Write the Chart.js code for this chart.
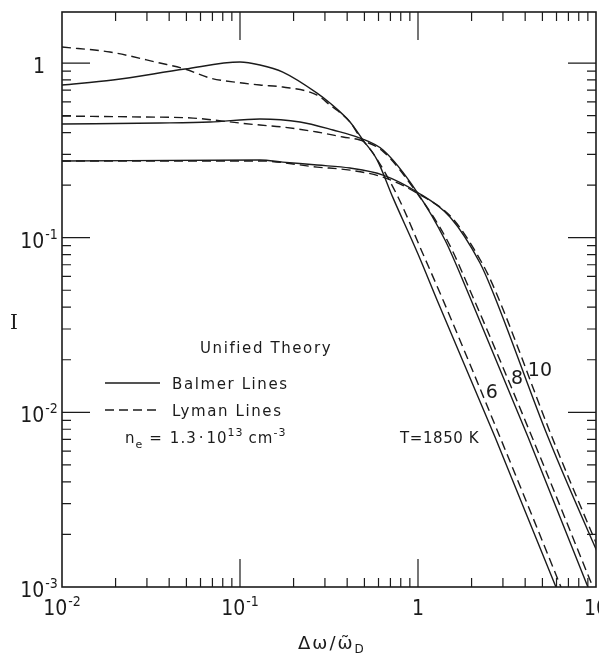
<!DOCTYPE html>
<html lang="en">
<head>
<meta charset="UTF-8">
<title>Unified Theory profiles</title>
<script src="https://cdn.jsdelivr.net/npm/chart.js@4.4.0/dist/chart.umd.min.js"></script>
<style>
  html, body { margin: 0; padding: 0; background: #fff; }
  #wrap { width: 599px; height: 655px; }
</style>
</head>
<body>
<div id="wrap"><canvas id="canvas"></canvas></div>
<script>
// profiles, x = dw/wD, y = I
// Balmer (solid) n = 6, 8, 10
const balmer6X = [0.01, 0.0193, 0.0491, 0.1, 0.1295, 0.174, 0.271, 0.32, 0.415, 0.491, 0.589, 0.724, 1.0, 1.279, 2.708, 5.885, 6.6];
const balmer6Y = [0.748, 0.799, 0.924, 1.013, 0.974, 0.888, 0.673, 0.590, 0.460, 0.362, 0.279, 0.169, 0.0806, 0.0440, 0.00722, 0.00103, 0.00078];
const balmer8X = [0.01, 0.0355, 0.0678, 0.1295, 0.2174, 0.333, 0.472, 0.636, 0.987, 1.418, 1.934, 4.15, 8.90, 9.8];
const balmer8Y = [0.4475, 0.4533, 0.4596, 0.4779, 0.4596, 0.4135, 0.372, 0.3176, 0.1826, 0.0970, 0.0470, 0.00722, 0.00103, 0.00081];
const balmer10X = [0.01, 0.1295, 0.174, 0.271, 0.415, 0.636, 0.987, 1.513, 2.23, 2.604, 5.374, 9.87, 10.5];
const balmer10Y = [0.2748, 0.2785, 0.271, 0.2606, 0.2505, 0.2284, 0.1826, 0.1313, 0.0716, 0.0502, 0.00722, 0.0017, 0.00148];
// Lyman (dashed) n = 6, 8, 10
const lyman6X = [0.01, 0.0186, 0.0355, 0.0491, 0.0678, 0.1, 0.1295, 0.174, 0.271, 0.32, 0.415, 0.472, 0.559, 0.772, 1.067, 1.382, 2.888, 6.28, 6.9];
const lyman6Y = [1.235, 1.156, 1.0, 0.924, 0.821, 0.771, 0.748, 0.729, 0.656, 0.575, 0.460, 0.377, 0.305, 0.171, 0.0806, 0.0440, 0.00722, 0.00103, 0.00081];
const lyman8X = [0.01, 0.0285, 0.0545, 0.1, 0.1295, 0.174, 0.271, 0.379, 0.472, 0.636, 0.987, 1.456, 2.011, 4.37, 9.49, 10.5];
const lyman8Y = [0.497, 0.491, 0.484, 0.4533, 0.4416, 0.430, 0.4027, 0.377, 0.3624, 0.312, 0.180, 0.097, 0.047, 0.00722, 0.00103, 0.00080];
const lyman10X = [0.01, 0.1295, 0.271, 0.415, 0.636, 0.987, 1.552, 2.29, 2.708, 5.66, 9.87, 10.5];
const lyman10Y = [0.2748, 0.275, 0.2537, 0.2437, 0.222, 0.180, 0.130, 0.0716, 0.0502, 0.00722, 0.00185, 0.0016];

// curve labels (n) and where they sit
const curveLabels = ['6', '8', '10'];
const curveLabelX = [2.60, 3.60, 4.84];
const curveLabelY = [0.0129, 0.0155, 0.0172];

// axes
const xMin = 0.01, xMax = 10;
const yMin = 0.001, yMax = 1.96;
const xDecades = [0.01, 0.1, 1, 10];
const yDecades = [0.001, 0.01, 0.1, 1];
const minorSteps = [2, 3, 4, 5, 6, 7, 8, 9];
const xTickBase = ['10', '10', '1', '10'];
const xTickExp = ['-2', '-1', '', ''];
const yTickBase = ['10', '10', '10', '1'];
const yTickExp = ['-3', '-2', '-1', ''];

const ink = '#1b1b1b';
const numFont = '21px "Liberation Sans Narrow", "DejaVu Sans Condensed", sans-serif';
const supFont = '14px "Liberation Sans Narrow", "DejaVu Sans Condensed", sans-serif';
const textFont = '15px "DejaVu Sans", sans-serif';
const smallFont = '11px "DejaVu Sans", sans-serif';

function pts(xs, ys) {
    return xs.map((x, i) => ({ x: x, y: ys[i] }));
}

function curve(label, xs, ys, dashed) {
    return {
        label: label,
        data: pts(xs, ys),
        borderColor: ink,
        borderWidth: 1.4,
        borderDash: dashed ? [9, 5] : [],
        pointRadius: 0,
        fill: false,
        cubicInterpolationMode: 'monotone'
    };
}

function drawPow(ctx, base, exp, cx, baseY) {
    ctx.font = numFont;
    const bw = ctx.measureText(base).width;
    ctx.font = supFont;
    const ew = exp ? ctx.measureText(exp).width + 1 : 0;
    const x0 = cx - (bw + ew) / 2;
    ctx.textAlign = 'left';
    ctx.textBaseline = 'alphabetic';
    ctx.font = numFont;
    ctx.fillText(base, x0, baseY);
    if (exp) {
        ctx.font = supFont;
        ctx.fillText(exp, x0 + bw + 1, baseY - 9);
    }
}

// text pieces laid one after another: [text, dy, font, gapAfter]
function drawRun(ctx, parts, x, y) {
    let cx = x;
    parts.forEach(p => {
        ctx.font = p[2];
        ctx.fillText(p[0], cx, y + p[1]);
        cx += ctx.measureText(p[0]).width + p[3];
    });
}

const framePlugin = {
    id: 'frame',
    afterDatasetsDraw(chart) {
        const ctx = chart.ctx;
        const a = chart.chartArea;
        const xs = chart.scales.x, ys = chart.scales.y;
        ctx.save();
        ctx.strokeStyle = ink;
        ctx.fillStyle = ink;
        ctx.setLineDash([]);

        // box
        ctx.lineWidth = 1.6;
        ctx.strokeRect(a.left, a.top, a.right - a.left, a.bottom - a.top);

        // inward ticks on all four sides
        ctx.lineWidth = 1.2;
        ctx.beginPath();
        xDecades.forEach(d => {
            [1].concat(minorSteps).forEach(m => {
                const v = d * m;
                if (v <= xMin || v >= xMax) return;
                const px = xs.getPixelForValue(v);
                const len = m === 1 ? 28 : 9;
                ctx.moveTo(px, a.bottom); ctx.lineTo(px, a.bottom - len);
                ctx.moveTo(px, a.top); ctx.lineTo(px, a.top + len);
            });
        });
        yDecades.forEach(d => {
            [1].concat(minorSteps).forEach(m => {
                const v = d * m;
                if (v <= yMin || v >= yMax) return;
                const py = ys.getPixelForValue(v);
                const len = m === 1 ? 28 : 9;
                ctx.moveTo(a.left, py); ctx.lineTo(a.left + len, py);
                ctx.moveTo(a.right, py); ctx.lineTo(a.right - len, py);
            });
        });
        ctx.stroke();

        // tick labels
        xDecades.forEach((v, i) => {
            drawPow(ctx, xTickBase[i], xTickExp[i], xs.getPixelForValue(v), a.bottom + 28);
        });
        yDecades.forEach((v, i) => {
            drawPow(ctx, yTickBase[i], yTickExp[i], 39, ys.getPixelForValue(v) + 10);
        });

        // axis titles
        ctx.textAlign = 'left';
        ctx.textBaseline = 'alphabetic';
        ctx.font = '20px "DejaVu Serif", "Liberation Serif", serif';
        ctx.fillText('I', 10, 329);
        ctx.font = '18px "DejaVu Sans", sans-serif';
        ctx.letterSpacing = '2px';
        ctx.fillText('\u0394\u03c9/\u03c9\u0303', 298, 649);
        const tw = ctx.measureText('\u0394\u03c9/\u03c9\u0303').width;
        ctx.font = '12px "DejaVu Sans", sans-serif';
        ctx.fillText('D', 298 + tw, 653);

        // curve labels
        ctx.letterSpacing = '0px';
        ctx.font = '19px "DejaVu Sans", sans-serif';
        ctx.textAlign = 'center';
        ctx.textBaseline = 'middle';
        curveLabels.forEach((t, i) => {
            ctx.fillText(t, xs.getPixelForValue(curveLabelX[i]), ys.getPixelForValue(curveLabelY[i]));
        });

        // legend block
        ctx.textAlign = 'left';
        ctx.textBaseline = 'alphabetic';
        ctx.font = textFont;
        ctx.letterSpacing = '1.6px';
        ctx.fillText('Unified Theory', 200, 353);
        ctx.fillText('Balmer Lines', 172, 389);
        ctx.fillText('Lyman Lines', 172, 416);

        ctx.lineWidth = 1.3;
        ctx.beginPath();
        ctx.moveTo(105, 383); ctx.lineTo(160, 383);
        ctx.stroke();
        ctx.setLineDash([9, 5]);
        ctx.beginPath();
        ctx.moveTo(105, 410); ctx.lineTo(158, 410);
        ctx.stroke();
        ctx.setLineDash([]);

        // conditions line
        ctx.letterSpacing = '1px';
        drawRun(ctx, [
            ['n', 0, textFont, 0],
            ['e', 5, smallFont, 6],
            ['=', 0, textFont, 7],
            ['1.3', 0, textFont, 2],
            ['\u00b7', 0, textFont, 2],
            ['10', 0, textFont, 0],
            ['13', -7, smallFont, 5],
            ['cm', 0, textFont, 0],
            ['-3', -7, smallFont, 0]
        ], 125, 443);
        ctx.font = textFont;
        ctx.letterSpacing = '0.6px';
        ctx.fillText('T=1850 K', 400, 443);
        ctx.restore();
    }
};

const chart = new Chart(document.getElementById('canvas'), {
    type: 'line',
    data: {
        datasets: [
            curve('Balmer 6', balmer6X, balmer6Y, false),
            curve('Balmer 8', balmer8X, balmer8Y, false),
            curve('Balmer 10', balmer10X, balmer10Y, false),
            curve('Lyman 6', lyman6X, lyman6Y, true),
            curve('Lyman 8', lyman8X, lyman8Y, true),
            curve('Lyman 10', lyman10X, lyman10Y, true)
        ]
    },
    options: {
        responsive: true,
        maintainAspectRatio: false,
        animation: false,
        events: [],
        layout: { padding: { left: 62, right: 3, top: 12, bottom: 68 } },
        scales: {
            x: { type: 'logarithmic', min: xMin, max: xMax, display: false },
            y: { type: 'logarithmic', min: yMin, max: yMax, display: false }
        },
        plugins: {
            legend: { display: false },
            tooltip: { enabled: false }
        }
    },
    plugins: [framePlugin]
});
</script>
</body>
</html>
